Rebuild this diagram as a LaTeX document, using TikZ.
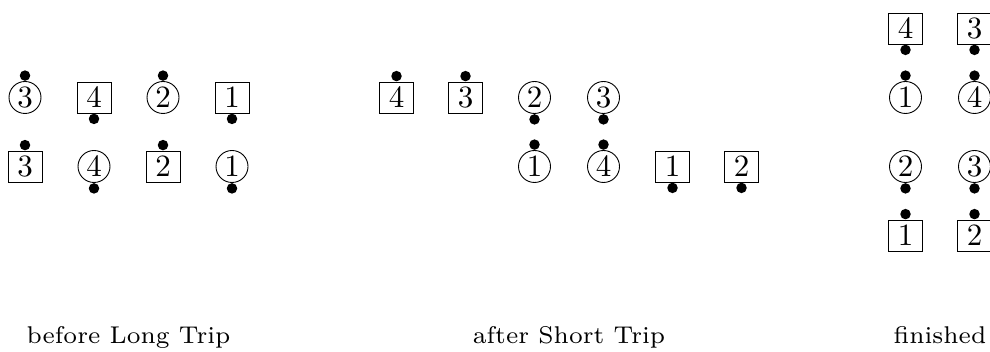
\documentclass[tikz,border=0pt]{standalone}
\usepackage{graphicx}
\tikzset{
 cnode/.style={circle,draw,line width=0.9pt,inner sep=0pt,minimum size=32pt},
 snode/.style={rectangle,draw,line width=0.9pt,inner sep=0pt,minimum width=34pt,minimum height=31pt},
 dotnode/.style={circle,fill=black,inner sep=0pt,minimum size=10.5pt},
 lbl/.style={anchor=base,inner sep=0pt},
}
\newcommand\dg[1]{\scalebox{3.1}{#1}}
\newcommand\lb[1]{\scalebox{3.46}{\scriptsize #1}}
\begin{document}
\begin{tikzpicture}[x=1pt,y=1pt]
\useasboundingbox (0,0) rectangle (990,352);
% panel 1, row 1
\node[cnode] (p1a) at (25,254.5) {\dg{3}};
\node[dotnode,anchor=south] (p1ad) at (p1a.north) {};
\node[snode] (p1b) at (94,254.5) {\dg{4}};
\node[dotnode,anchor=north] (p1bd) at (p1b.south) {};
\node[cnode] (p1c) at (163,254.5) {\dg{2}};
\node[dotnode,anchor=south] (p1cd) at (p1c.north) {};
\node[snode] (p1e) at (232,254.5) {\dg{1}};
\node[dotnode,anchor=north] (p1ed) at (p1e.south) {};
% panel 1, row 2
\node[snode] (p1f) at (25,185.5) {\dg{3}};
\node[dotnode,anchor=south] (p1fd) at (p1f.north) {};
\node[cnode] (p1g) at (94,185.5) {\dg{4}};
\node[dotnode,anchor=north] (p1gd) at (p1g.south) {};
\node[snode] (p1h) at (163,185.5) {\dg{2}};
\node[dotnode,anchor=south] (p1hd) at (p1h.north) {};
\node[cnode] (p1i) at (232,185.5) {\dg{1}};
\node[dotnode,anchor=north] (p1id) at (p1i.south) {};
% panel 2, row 1
\node[snode] (p2a) at (396.5,254.5) {\dg{4}};
\node[dotnode,anchor=south] (p2ad) at (p2a.north) {};
\node[snode] (p2b) at (465.5,254.5) {\dg{3}};
\node[dotnode,anchor=south] (p2bd) at (p2b.north) {};
\node[cnode] (p2c) at (534.5,254.5) {\dg{2}};
\node[dotnode,anchor=north] (p2cd) at (p2c.south) {};
\node[cnode] (p2e) at (603.5,254.5) {\dg{3}};
\node[dotnode,anchor=north] (p2ed) at (p2e.south) {};
% panel 2, row 2
\node[cnode] (p2f) at (534.5,185.5) {\dg{1}};
\node[dotnode,anchor=south] (p2fd) at (p2f.north) {};
\node[cnode] (p2g) at (603.5,185.5) {\dg{4}};
\node[dotnode,anchor=south] (p2gd) at (p2g.north) {};
\node[snode] (p2h) at (672.5,185.5) {\dg{1}};
\node[dotnode,anchor=north] (p2hd) at (p2h.south) {};
\node[snode] (p2i) at (741.5,185.5) {\dg{2}};
\node[dotnode,anchor=north] (p2id) at (p2i.south) {};
% panel 3
\node[snode] (p3a) at (905.5,323.5) {\dg{4}};
\node[dotnode,anchor=north] (p3ad) at (p3a.south) {};
\node[snode] (p3b) at (974.5,323.5) {\dg{3}};
\node[dotnode,anchor=north] (p3bd) at (p3b.south) {};
\node[cnode] (p3c) at (905.5,254.5) {\dg{1}};
\node[dotnode,anchor=south] (p3cd) at (p3c.north) {};
\node[cnode] (p3e) at (974.5,254.5) {\dg{4}};
\node[dotnode,anchor=south] (p3ed) at (p3e.north) {};
\node[cnode] (p3f) at (905.5,185.5) {\dg{2}};
\node[dotnode,anchor=north] (p3fd) at (p3f.south) {};
\node[cnode] (p3g) at (974.5,185.5) {\dg{3}};
\node[dotnode,anchor=north] (p3gd) at (p3g.south) {};
\node[snode] (p3h) at (905.5,116.5) {\dg{1}};
\node[dotnode,anchor=south] (p3hd) at (p3h.north) {};
\node[snode] (p3i) at (974.5,116.5) {\dg{2}};
\node[dotnode,anchor=south] (p3id) at (p3i.north) {};
% labels
\node[lbl] (l1) at (128.5,8) {\lb{before Long Trip}};
\node[lbl] (l2) at (569,8) {\lb{after Short Trip}};
\node[lbl] (l3) at (940,8) {\lb{finished}};
\end{tikzpicture}
\end{document}
